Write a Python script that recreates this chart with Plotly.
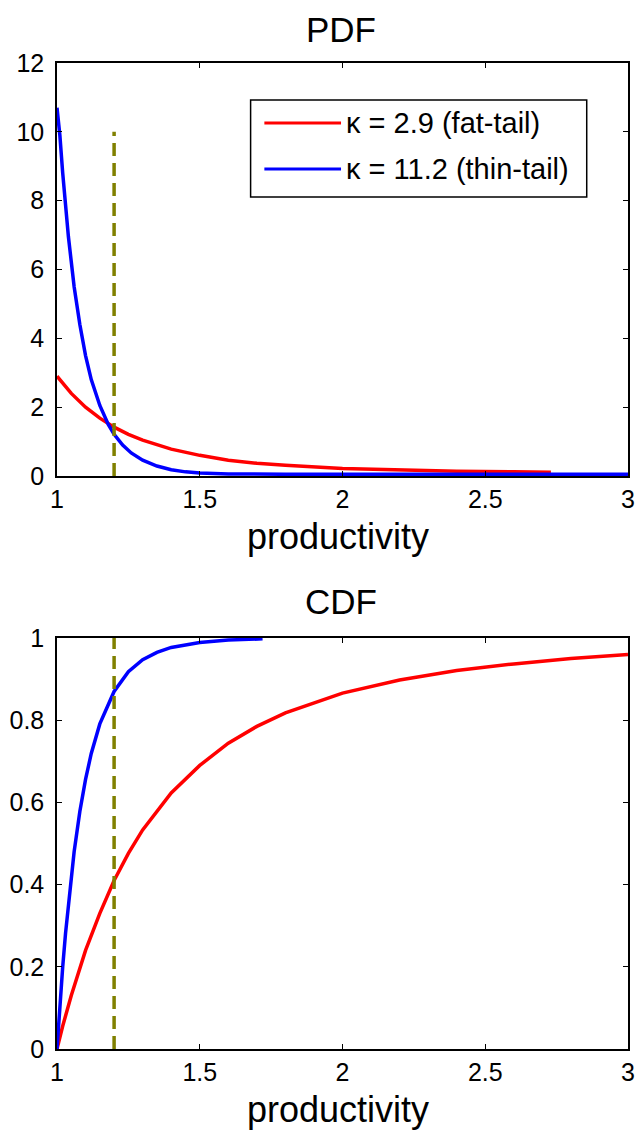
import plotly.graph_objects as go

# ---------------- data ----------------
series_names = ["κ = 2.9 (fat-tail)", "κ = 11.2 (thin-tail)"]
series_colors = ["#FF0000", "#0000FF"]

# PDF, kappa = 2.9
pdf_fat_x = [1.00, 1.05, 1.10, 1.15, 1.20, 1.25, 1.30, 1.40, 1.50, 1.60, 1.70, 1.80, 2.00, 2.20, 2.40, 2.60, 2.73]
pdf_fat_y = [2.90, 2.40, 2.00, 1.68, 1.42, 1.21, 1.04, 0.78, 0.60, 0.46, 0.37, 0.31, 0.22, 0.17, 0.14, 0.12, 0.11]

# PDF, kappa = 11.2
pdf_thin_x = [1.00, 1.01, 1.02, 1.03, 1.04, 1.06, 1.08, 1.10, 1.12, 1.15, 1.18, 1.20, 1.23, 1.26, 1.30, 1.35,
              1.40, 1.45, 1.50, 1.60, 1.70, 1.80, 2.00, 2.50, 3.00]
pdf_thin_y = [10.7, 9.9, 8.8, 7.8, 6.95, 5.5, 4.4, 3.5, 2.8, 2.05, 1.49, 1.21, 0.90, 0.67, 0.46, 0.29,
              0.18, 0.12, 0.09, 0.06, 0.05, 0.05, 0.05, 0.05, 0.05]

# CDF, kappa = 2.9
cdf_fat_x = [1.00, 1.02, 1.05, 1.10, 1.15, 1.20, 1.25, 1.30, 1.40, 1.50, 1.60, 1.70, 1.80, 2.00, 2.20, 2.40,
             2.60, 2.80, 3.00]
cdf_fat_y = [0.00, 0.056, 0.13, 0.24, 0.33, 0.41, 0.476, 0.533, 0.623, 0.69, 0.744, 0.785, 0.818, 0.866, 0.898,
             0.921, 0.937, 0.95, 0.96]

# CDF, kappa = 11.2
cdf_thin_x = [1.00, 1.01, 1.02, 1.03, 1.04, 1.06, 1.08, 1.10, 1.12, 1.15, 1.20, 1.25, 1.30, 1.35, 1.40, 1.50,
              1.60, 1.72]
cdf_thin_y = [0.00, 0.105, 0.20, 0.282, 0.355, 0.48, 0.578, 0.656, 0.719, 0.791, 0.87, 0.918, 0.947, 0.965,
              0.977, 0.989, 0.995, 0.998]

cutoff_x = 1.2
pdf_cutoff_top = 10
cdf_cutoff_top = 1

x_ticks = [1, 1.5, 2, 2.5, 3]
x_ticktext = ["1", "1.5", "2", "2.5", "3"]
pdf_yticks = [0, 2, 4, 6, 8, 10, 12]
pdf_yticktext = ["0", "2", "4", "6", "8", "10", "12"]
cdf_yticks = [0, 0.2, 0.4, 0.6, 0.8, 1]
cdf_yticktext = ["0", "0.2", "0.4", "0.6", "0.8", "1"]

titles = ["PDF", "CDF"]
xlabel = "productivity"

# ---------------- layout geometry ----------------
W, H = 644, 1132
ML, MR, MT, MB = 54, 9, 63, 83
PW = W - ML - MR
PH = H - MT - MB


def px2x(px):
    return (px - ML) / PW


def px2y(py):
    return (H - MB - py) / PH


FONT = "Liberation Sans, Arial, Helvetica, sans-serif"
OLIVE = "#808000"

fig = go.Figure()

# PDF panel
fig.add_trace(go.Scatter(x=pdf_fat_x, y=pdf_fat_y, mode="lines", name=series_names[0],
                         line=dict(color=series_colors[0], width=3.5), xaxis="x", yaxis="y", showlegend=False))
fig.add_trace(go.Scatter(x=pdf_thin_x, y=pdf_thin_y, mode="lines", name=series_names[1],
                         line=dict(color=series_colors[1], width=3.5), xaxis="x", yaxis="y", showlegend=False))
fig.add_trace(go.Scatter(x=[cutoff_x, cutoff_x], y=[0, pdf_cutoff_top], mode="lines",
                         line=dict(color=OLIVE, width=3.5, dash="13px,7px"), xaxis="x", yaxis="y",
                         showlegend=False))

# CDF panel
fig.add_trace(go.Scatter(x=cdf_fat_x, y=cdf_fat_y, mode="lines", name=series_names[0],
                         line=dict(color=series_colors[0], width=3.5), xaxis="x2", yaxis="y2", showlegend=False))
fig.add_trace(go.Scatter(x=cdf_thin_x, y=cdf_thin_y, mode="lines", name=series_names[1],
                         line=dict(color=series_colors[1], width=3.5), xaxis="x2", yaxis="y2", showlegend=False))
fig.add_trace(go.Scatter(x=[cutoff_x, cutoff_x], y=[0, cdf_cutoff_top], mode="lines",
                         line=dict(color=OLIVE, width=3.5, dash="13px,7px"), xaxis="x2", yaxis="y2",
                         showlegend=False))

axis_common = dict(showline=True, linecolor="black", linewidth=1.5, mirror="ticks", ticks="inside",
                   ticklen=5, tickcolor="black", tickwidth=1, showgrid=False, zeroline=False,
                   tickfont=dict(family=FONT, size=25, color="black"))

top_bottom = px2y(476)
bot_top = px2y(638)

fig.update_layout(
    width=W, height=H,
    margin=dict(l=ML, r=MR, t=MT, b=MB, pad=0),
    paper_bgcolor="white", plot_bgcolor="white",
    font=dict(family=FONT, color="black"),
    xaxis=dict(domain=[0, 1], range=[1, 3], tickvals=x_ticks, ticktext=x_ticktext, anchor="y",
               ticklabelstandoff=0, **axis_common),
    yaxis=dict(domain=[top_bottom, 1], range=[0, 12], tickvals=pdf_yticks, ticktext=pdf_yticktext, anchor="x",
               ticklabelstandoff=6, **axis_common),
    xaxis2=dict(domain=[0, 1], range=[1, 3], tickvals=x_ticks, ticktext=x_ticktext, anchor="y2",
                ticklabelstandoff=0, **axis_common),
    yaxis2=dict(domain=[0, bot_top], range=[0, 1], tickvals=cdf_yticks, ticktext=cdf_yticktext, anchor="x2",
                ticklabelstandoff=6, **axis_common),
    showlegend=False,
)

annotations = []
# titles
annotations.append(dict(text=titles[0], x=px2x(343), y=px2y(30), xref="paper", yref="paper",
                        xanchor="center", yanchor="middle", showarrow=False,
                        font=dict(family=FONT, size=35, color="black")))
annotations.append(dict(text=titles[1], x=px2x(343), y=px2y(601), xref="paper", yref="paper",
                        xanchor="center", yanchor="middle", showarrow=False,
                        font=dict(family=FONT, size=35, color="black")))
# x labels
annotations.append(dict(text=xlabel, x=px2x(340), y=px2y(536), xref="paper", yref="paper",
                        xanchor="center", yanchor="middle", showarrow=False,
                        font=dict(family=FONT, size=36, color="black")))
annotations.append(dict(text=xlabel, x=px2x(340), y=px2y(1109), xref="paper", yref="paper",
                        xanchor="center", yanchor="middle", showarrow=False,
                        font=dict(family=FONT, size=36, color="black")))

# manual legend (matching the reference's long line samples)
shapes = [dict(type="rect", xref="paper", yref="paper", x0=px2x(251), x1=px2x(593), y0=px2y(197),
               y1=px2y(100), line=dict(color="black", width=1.5), fillcolor="white", layer="above")]
legend_rows = [123, 169]
for name, col, row in zip(series_names, series_colors, legend_rows):
    shapes.append(dict(type="line", xref="paper", yref="paper", x0=px2x(265), x1=px2x(343),
                       y0=px2y(row), y1=px2y(row), line=dict(color=col, width=3), layer="above"))
    annotations.append(dict(text=name, x=px2x(346), y=px2y(row), xref="paper", yref="paper",
                            xanchor="left", yanchor="middle", showarrow=False,
                            font=dict(family=FONT, size=29, color="black")))

fig.update_layout(annotations=annotations, shapes=shapes)

fig.write_html("out.html")
